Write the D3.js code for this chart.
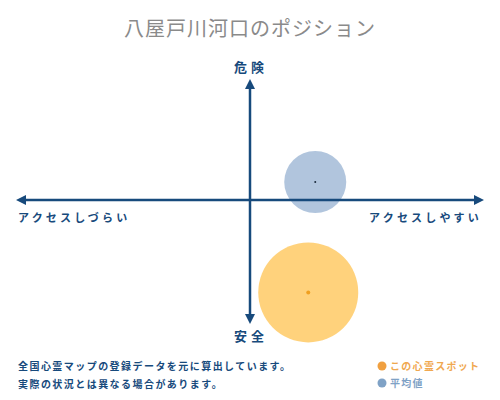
<!DOCTYPE html>
<html>
<head>
<meta charset="utf-8">
<script src="https://cdn.jsdelivr.net/npm/d3@7"></script>
<style>
  body { margin: 0; background: #fff; }
  text { font-family: "Noto Sans CJK JP", sans-serif; }
</style>
</head>
<body>
<div id="plotDiv"></div>
<script>
var title = "八屋戸川河口のポジション";
var axisLabels = ["危険", "安全", "アクセスしづらい", "アクセスしやすい"];
var names = ["平均値", "この心霊スポット"];
var accessValues = [2.8, 2.5];
var dangerValues = [1.5, -7.7];
var sizeValues = [31, 50];
var fillColors = ["#a9bfd9", "#ffcd6e"];
var dotColors = ["#1a2a3a", "#f0a020"];
var notes = ["全国心霊マップの登録データを元に算出しています。", "実際の状況とは異なる場合があります。"];
var legendNames = ["この心霊スポット", "平均値"];
var legendColors = ["#f0a040", "#7fa2c6"];
var legendTextColors = ["#f0a850", "#7fa2c6"];

var navy = "#174a7c";
var W = 500, H = 400;

var svg = d3.select("#plotDiv").append("svg")
    .attr("width", W).attr("height", H);

var x = d3.scaleLinear().domain([-10, 10]).range([17, 483]);
var y = d3.scaleLinear().domain([-10, 10]).range([320, 80]);
var r = d3.scaleLinear().domain([0, 50]).range([0, 50]);

svg.append("text")
    .attr("x", 250).attr("y", 36)
    .attr("text-anchor", "middle")
    .attr("font-size", 20)
    .attr("fill", "#8a8a8a")
    .attr("letter-spacing", 1)
    .text(title);

var defs = svg.append("defs");
defs.append("marker")
    .attr("id", "arr")
    .attr("viewBox", "0 0 10 10")
    .attr("refX", 5).attr("refY", 5)
    .attr("markerWidth", 4).attr("markerHeight", 4)
    .attr("orient", "auto-start-reverse")
    .append("path")
    .attr("d", "M0,0 L10,5 L0,10 Z")
    .attr("fill", navy);

var bubbles = svg.append("g");
bubbles.selectAll("circle")
    .data(names)
    .enter()
    .append("circle")
    .attr("cx", function(d, i) { return x(accessValues[i]); })
    .attr("cy", function(d, i) { return y(dangerValues[i]); })
    .attr("r", function(d, i) { return r(sizeValues[i]); })
    .attr("fill", function(d, i) { return fillColors[i]; })
    .attr("opacity", 0.9);

var axes = svg.append("g");
axes.append("line")
    .attr("x1", x(-10) + 4).attr("x2", x(10) - 4)
    .attr("y1", y(0)).attr("y2", y(0))
    .attr("stroke", navy).attr("stroke-width", 2.5)
    .attr("marker-start", "url(#arr)")
    .attr("marker-end", "url(#arr)");
axes.append("line")
    .attr("x1", x(0)).attr("x2", x(0))
    .attr("y1", y(10) + 4).attr("y2", y(-10) - 1)
    .attr("stroke", navy).attr("stroke-width", 2.5)
    .attr("marker-start", "url(#arr)")
    .attr("marker-end", "url(#arr)");

bubbles.selectAll(".dot")
    .data(names)
    .enter()
    .append("circle")
    .attr("class", "dot")
    .attr("cx", function(d, i) { return x(accessValues[i]); })
    .attr("cy", function(d, i) { return y(dangerValues[i]); })
    .attr("r", function(d, i) { return i == 0 ? 1 : 2; })
    .attr("fill", function(d, i) { return dotColors[i]; });

svg.append("text")
    .attr("x", 251).attr("y", 72)
    .attr("text-anchor", "middle")
    .attr("font-size", 13).attr("font-weight", "bold")
    .attr("letter-spacing", 4)
    .attr("fill", navy)
    .text(axisLabels[0]);
svg.append("text")
    .attr("x", 251).attr("y", 341)
    .attr("text-anchor", "middle")
    .attr("font-size", 13).attr("font-weight", "bold")
    .attr("letter-spacing", 4)
    .attr("fill", navy)
    .text(axisLabels[1]);
svg.append("text")
    .attr("x", 18).attr("y", 222)
    .attr("font-size", 11).attr("font-weight", "bold")
    .attr("letter-spacing", 3.2)
    .attr("fill", navy)
    .text(axisLabels[2]);
svg.append("text")
    .attr("x", 482).attr("y", 222)
    .attr("text-anchor", "end")
    .attr("font-size", 11).attr("font-weight", "bold")
    .attr("letter-spacing", 3.2)
    .attr("fill", navy)
    .text(axisLabels[3]);

svg.selectAll(".note")
    .data(notes)
    .enter()
    .append("text")
    .attr("class", "note")
    .attr("x", 18)
    .attr("y", function(d, i) { return 370 + i * 18; })
    .attr("font-size", 10).attr("font-weight", "bold")
    .attr("letter-spacing", 1.45)
    .attr("fill", navy)
    .text(function(d) { return d; });

var legend = svg.selectAll(".leg")
    .data(legendNames)
    .enter()
    .append("g")
    .attr("class", "leg")
    .attr("transform", function(d, i) { return "translate(382," + (366 + i * 17) + ")"; });
legend.append("circle")
    .attr("r", 4.5)
    .attr("fill", function(d, i) { return legendColors[i]; });
legend.append("text")
    .attr("x", 8).attr("y", 4)
    .attr("font-size", 10).attr("font-weight", "bold")
    .attr("letter-spacing", 1.3)
    .attr("fill", function(d, i) { return legendTextColors[i]; })
    .text(function(d) { return d; });
</script>
</body>
</html>
